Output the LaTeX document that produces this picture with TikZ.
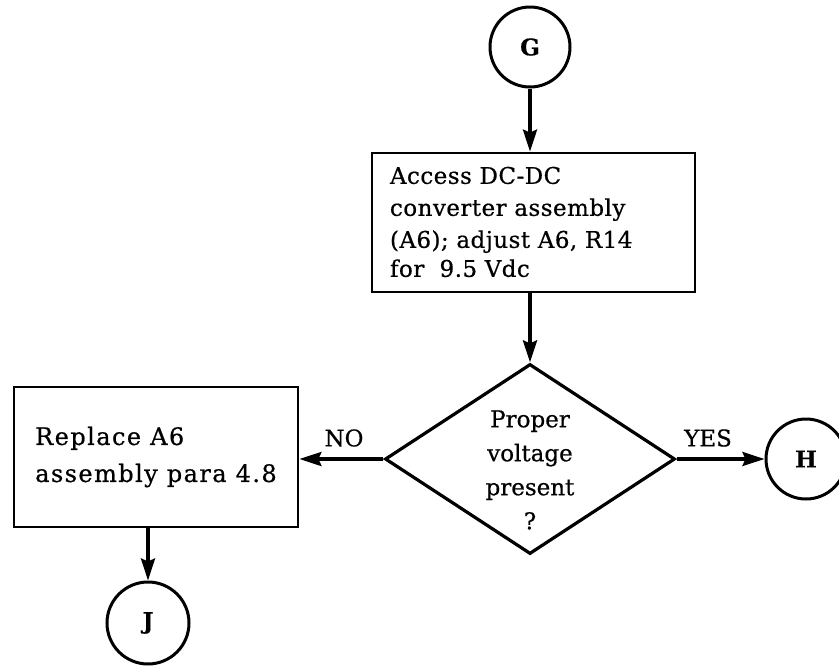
\documentclass[tikz,border=0pt]{standalone}
\usepackage{fontspec}
\setmainfont{DejaVu Serif}[FakeBold=0.6]
\newfontfamily\myspacedfam{DejaVu Serif}[LetterSpace=2,FakeBold=0.6]
\newfontfamily\mywidefam{DejaVu Serif}[LetterSpace=6,FakeBold=0.6]
\newcommand\myboxfont{\myspacedfam\fontsize{23}{32}\selectfont}
\newcommand\mylblfont{\fontsize{23}{34}\selectfont}
\usetikzlibrary{shapes.geometric,arrows.meta}
\begin{document}
\begin{tikzpicture}[x=1pt,y=-1pt,
  line width=2.8pt,
  conn/.style={-{Stealth[length=22pt,width=14pt,inset=3pt]},line width=3.4pt},
  stepbox/.style={draw,rectangle,inner ysep=0pt,align=left,font=\myboxfont,line width=2.8pt},
  conncirc/.style={draw,circle,minimum size=80pt,inner sep=0pt,line width=3pt,font=\bfseries\fontsize{23}{28}\selectfont},
  lbl/.style={font=\mylblfont,inner sep=0pt}]
\useasboundingbox (0,0) rectangle (839,665);

\node[conncirc] (G) at (530,47) {G};

\node[stepbox,minimum width=323pt,minimum height=139pt,inner xsep=18pt,text width=287pt] (box1) at (533.5,222.5)
  {\rule{0pt}{10pt}\\[-26pt]Access DC-DC\\converter assembly\\(A6); adjust A6, R14\\[-3pt]for~ 9.5 Vdc};

\node[draw,diamond,minimum width=290pt,minimum height=190pt,inner sep=0pt,line width=3.2pt] (d) at (530,459) {};
\node[lbl,align=center] (dq) at (530,470) {Proper\\voltage\\present\\?};

\node[stepbox,minimum width=284pt,minimum height=140pt,inner xsep=0pt,font=\mywidefam\fontsize{24}{37}\selectfont] (box2) at (156,457)
  {Replace A6\\assembly para 4.8};

\node[conncirc] (H) at (806,459) {H};
\node[conncirc,minimum size=82pt] (J) at (148,623) {J};

\draw[conn] (G.south) -- (G.south |- box1.north);
\draw[conn] (box1.south -| d.north) -- (d.north);
\draw[conn] (d.west) -- (d.west -| box2.east);
\draw[conn] (d.east) -- (H.west);
\draw[conn] (J.north |- box2.south) -- (J.north);

\node[lbl] (no) at (344,438) {NO};
\node[lbl] (yes) at (708,438) {YES};
\end{tikzpicture}
\end{document}
